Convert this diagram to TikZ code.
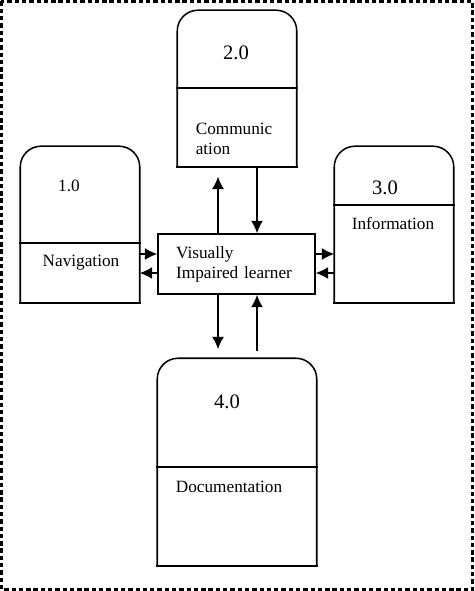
\documentclass[tikz,border=0pt]{standalone}
\usepackage{fontspec}
\setmainfont{Liberation Serif}
\usetikzlibrary{arrows.meta, positioning}

\newcommand{\px}{0.0265cm}
\newcommand{\storeshape}[1]{%
	\draw[rounded corners=0.55cm] (#1.south west) |- (#1.north) -| (#1.south east);
	\draw (#1.south west) -- (#1.south east);}

\tikzset{
	procbox/.style={minimum width=3.127cm, minimum height=4.11cm, inner sep=0pt},
	lbl/.style={font=\fontsize{13}{15}\selectfont, inner sep=0pt},
	num/.style={font=\fontsize{15.5}{18}\selectfont, inner sep=0pt},
}

\begin{document}
\begin{tikzpicture}[x=\px, y=-\px, line width=1.15pt, line cap=rect, >={Latex[length=3.3mm,width=3.2mm]}]

	\useasboundingbox (0,0) rectangle (474,591);
	\draw[line width=2.6pt, line cap=butt, dash pattern=on 3.3pt off 2.2pt] (1.5,1.5) rectangle (472.5,589.5);

	% the four processes
	\node[procbox] (p1) at (80,224.5) {};
	\node[procbox] (p2) at (237,88.5) {};
	\node[procbox] (p3) at (394,224.5) {};
	\node[procbox, minimum width=4.187cm, minimum height=5.459cm] (p4) at (237,462) {};
	\storeshape{p1}
	\storeshape{p2}
	\storeshape{p3}
	\storeshape{p4}
	\draw (p1.west |- 0,243) -- (p1.east |- 0,243);
	\draw (p2.west |- 0,88) -- (p2.east |- 0,88);
	\draw (p3.west |- 0,205) -- (p3.east |- 0,205);
	\draw (p4.west |- 0,467) -- (p4.east |- 0,467);

	\node[lbl] (n1) at (69,186) {1.0};
	\node[num] (n2) at (236,53) {2.0};
	\node[num] (n3) at (385,188) {3.0};
	\node[num] (n4) at (227,402) {4.0};

	\node[lbl] (l1) at (81,263) {Navigation};
	\node[lbl, align=left, anchor=west] (l2) at (195,139) {Communic\\ation};
	\node[lbl] (l3) at (393,224) {Information};
	\node[lbl] (l4) at (229,487) {Documentation};

	% the learner
	\node[draw, font=\fontsize{13}{15}\selectfont, align=left, text width=3.2cm, inner xsep=0.477cm,
		minimum width=4.16cm, minimum height=1.59cm] (vil) at (236.5,264) {Visually\\Impaired learner};

	\draw[->, line cap=butt, shorten >=0.26cm] (vil.north -| 218,0) -- (p2.south -| 218,0);
	\draw[->, line cap=butt] (p2.south -| 257,0) -- (vil.north -| 257,0);
	\draw[->, line cap=butt] (p1.east |- 0,254) -- (vil.west |- 0,254);
	\draw[->, line cap=butt] (vil.west |- 0,273) -- (p1.east |- 0,273);
	\draw[->, line cap=butt] (vil.east |- 0,254) -- (p3.west |- 0,254);
	\draw[->, line cap=butt] (p3.west |- 0,273) -- (vil.east |- 0,273);
	\draw[->, line cap=butt, shorten >=0.24cm] (vil.south -| 218,0) -- (p4.north -| 218,0);
	\draw[->, line cap=butt, shorten <=0.19cm] (p4.north -| 257,0) -- (vil.south -| 257,0);

\end{tikzpicture}
\end{document}
